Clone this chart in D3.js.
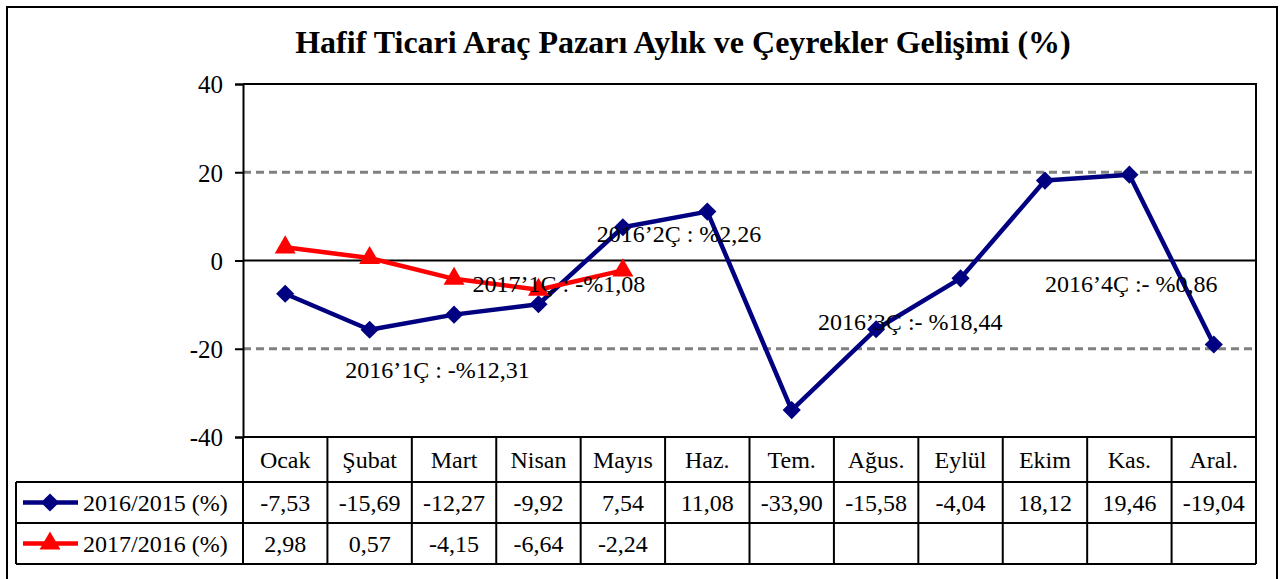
<!DOCTYPE html>
<html>
<head>
<meta charset="utf-8">
<script src="https://cdn.jsdelivr.net/npm/d3@7"></script>
<style>
  body { margin: 0; background: #fff; }
  svg text { font-family: "Liberation Serif", "DejaVu Serif", serif; fill: #000; }
</style>
</head>
<body>
<div id="chart"></div>
<script>
// chart data
const months = ["Ocak", "Şubat", "Mart", "Nisan", "Mayıs", "Haz.", "Tem.", "Ağus.", "Eylül", "Ekim", "Kas.", "Aral."];
const series2016 = [-7.53, -15.69, -12.27, -9.92, 7.54, 11.08, -33.90, -15.58, -4.04, 18.12, 19.46, -19.04];
const series2017 = [2.98, 0.57, -4.15, -6.64, -2.24];
const seriesNames = ["2016/2015 (%)", "2017/2016 (%)"];
const yTicks = [-40, -20, 0, 20, 40];
// quarter notes: text, position along the months (0..12), value where the text sits
const noteTexts = ["2016’1Ç : -%12,31", "2017’1Ç : -%1,08", "2016’2Ç : %2,26", "2016’3Ç :- %18,44", "2016’4Ç :- %0,86"];
const noteMonthPos = [1.21, 2.72, 4.19, 6.81, 9.5];
const noteValues = [-26.6, -7.1, 4.2, -15.75, -7.1];

const svgWidth = 1283;
const svgHeight = 579;
const margin = { top: 84, left: 243, right: 27, bottom: 142 };
const plotW = svgWidth - margin.left - margin.right;
const plotH = svgHeight - margin.top - margin.bottom;
const navy = "#000080";
const red = "#ff0000";
const fontSize = "24px";

const svg = d3.select("#chart")
    .append("svg")
    .attr("width", svgWidth)
    .attr("height", svgHeight);

// outer frame
svg.append("rect")
    .attr("x", 7).attr("y", 7)
    .attr("width", 1270).attr("height", 580)
    .attr("fill", "none")
    .attr("stroke", "#000")
    .attr("stroke-width", 2);

svg.append("text")
    .attr("x", 683).attr("y", 53)
    .attr("text-anchor", "middle")
    .style("font-size", "32px")
    .style("font-weight", "bold")
    .text("Hafif Ticari Araç Pazarı Aylık ve Çeyrekler Gelişimi (%)");

const g = svg.append("g")
    .attr("transform", `translate(${margin.left},${margin.top})`);

const x = d3.scaleBand().domain(months).range([0, plotW]);
const xPos = d3.scaleLinear().domain([0, months.length]).range([0, plotW]);
const y = d3.scaleLinear().domain([-40, 40]).range([plotH, 0]);

// dashed grid
g.selectAll(".grid")
    .data(yTicks.filter(t => t !== 0 && Math.abs(t) !== 40))
    .enter().append("line")
    .attr("x1", 0).attr("x2", plotW)
    .attr("y1", d => y(d)).attr("y2", d => y(d))
    .attr("stroke", "#808080")
    .attr("stroke-width", 3)
    .attr("stroke-dasharray", "8,5");

// plot border (top + right)
g.append("path")
    .attr("d", `M0,0H${plotW}V${plotH}`)
    .attr("fill", "none")
    .attr("stroke", "#000")
    .attr("stroke-width", 2);

// zero line
g.append("line")
    .attr("x1", 0).attr("x2", plotW)
    .attr("y1", y(0)).attr("y2", y(0))
    .attr("stroke", "#000")
    .attr("stroke-width", 2);

// y axis
const yAxis = g.append("g")
    .call(d3.axisLeft(y).tickValues(yTicks).tickSize(8).tickPadding(12).tickFormat(d => String(d)));
yAxis.selectAll("path, line").attr("stroke", "#000").attr("stroke-width", 2);
yAxis.selectAll("text")
    .style("font-family", "'Liberation Serif', serif")
    .style("font-size", "25px")
    .attr("dy", "0.35em");

// lines
const line = d3.line()
    .x((d, i) => x(months[i]) + x.bandwidth() / 2)
    .y(d => y(d));

g.append("path")
    .datum(series2016)
    .attr("d", line)
    .attr("fill", "none")
    .attr("stroke", navy)
    .attr("stroke-width", 4.5)
    .attr("stroke-linejoin", "round");

const diamond = d3.symbol().type(d3.symbolSquare).size(165);
g.selectAll(".dia")
    .data(series2016)
    .enter().append("path")
    .attr("d", diamond)
    .attr("fill", navy)
    .attr("transform", (d, i) => `translate(${x(months[i]) + x.bandwidth() / 2},${y(d)}) rotate(45)`);

g.append("path")
    .datum(series2017)
    .attr("d", line)
    .attr("fill", "none")
    .attr("stroke", red)
    .attr("stroke-width", 4.5)
    .attr("stroke-linejoin", "round");

const triangle = d3.symbol().type(d3.symbolTriangle).size(190);
g.selectAll(".tri")
    .data(series2017)
    .enter().append("path")
    .attr("d", triangle)
    .attr("fill", red)
    .attr("transform", (d, i) => `translate(${x(months[i]) + x.bandwidth() / 2},${y(d)})`);

// quarter notes
g.selectAll(".note")
    .data(noteTexts)
    .enter().append("text")
    .attr("x", (d, i) => xPos(noteMonthPos[i]))
    .attr("y", (d, i) => y(noteValues[i]))
    .style("font-size", fontSize)
    .text(d => d);

// data table
const rowH = [45, 41, 41];
const tableTop = plotH;
const legendLeft = 16 - margin.left;
const table = g.append("g");
const rowY = [tableTop, tableTop + rowH[0], tableTop + rowH[0] + rowH[1], tableTop + rowH[0] + rowH[1] + rowH[2]];

// horizontal lines
table.append("line")
    .attr("x1", 0).attr("x2", plotW)
    .attr("y1", rowY[0]).attr("y2", rowY[0]);
[1, 2, 3].forEach(r => {
    table.append("line")
        .attr("x1", legendLeft).attr("x2", plotW)
        .attr("y1", rowY[r]).attr("y2", rowY[r]);
});
// vertical lines
months.forEach((m, i) => {
    table.append("line")
        .attr("x1", x(m)).attr("x2", x(m))
        .attr("y1", rowY[0]).attr("y2", rowY[3]);
});
table.append("line")
    .attr("x1", plotW).attr("x2", plotW)
    .attr("y1", rowY[0]).attr("y2", rowY[3]);
table.append("line")
    .attr("x1", legendLeft).attr("x2", legendLeft)
    .attr("y1", rowY[1]).attr("y2", rowY[3]);
table.selectAll("line").attr("stroke", "#000").attr("stroke-width", 2);

const fmt = v => v.toFixed(2).replace(".", ",");
table.selectAll(".mon")
    .data(months)
    .enter().append("text")
    .attr("x", d => x(d) + x.bandwidth() / 2)
    .attr("y", rowY[0] + rowH[0] / 2 + 8)
    .attr("text-anchor", "middle")
    .style("font-size", fontSize)
    .text(d => d);

[series2016, series2017].forEach((s, r) => {
    table.selectAll(".val" + r)
        .data(s)
        .enter().append("text")
        .attr("x", (d, i) => x(months[i]) + x.bandwidth() / 2)
        .attr("y", rowY[r + 1] + rowH[r + 1] / 2 + 8)
        .attr("text-anchor", "middle")
        .style("font-size", fontSize)
        .text(d => fmt(d));
});

// legend keys inside the table
const keyColors = [navy, red];
seriesNames.forEach((name, r) => {
    const cy = rowY[r + 1] + rowH[r + 1] / 2;
    table.append("line")
        .attr("x1", legendLeft + 7).attr("x2", legendLeft + 62)
        .attr("y1", cy).attr("y2", cy)
        .attr("stroke", keyColors[r])
        .attr("stroke-width", 4.5);
    table.append("path")
        .attr("d", r === 0 ? diamond : triangle)
        .attr("fill", keyColors[r])
        .attr("transform", `translate(${legendLeft + 34},${cy})` + (r === 0 ? " rotate(45)" : ""));
    table.append("text")
        .attr("x", legendLeft + 67)
        .attr("y", cy + 8)
        .style("font-size", fontSize)
        .text(name);
});
</script>
</body>
</html>
